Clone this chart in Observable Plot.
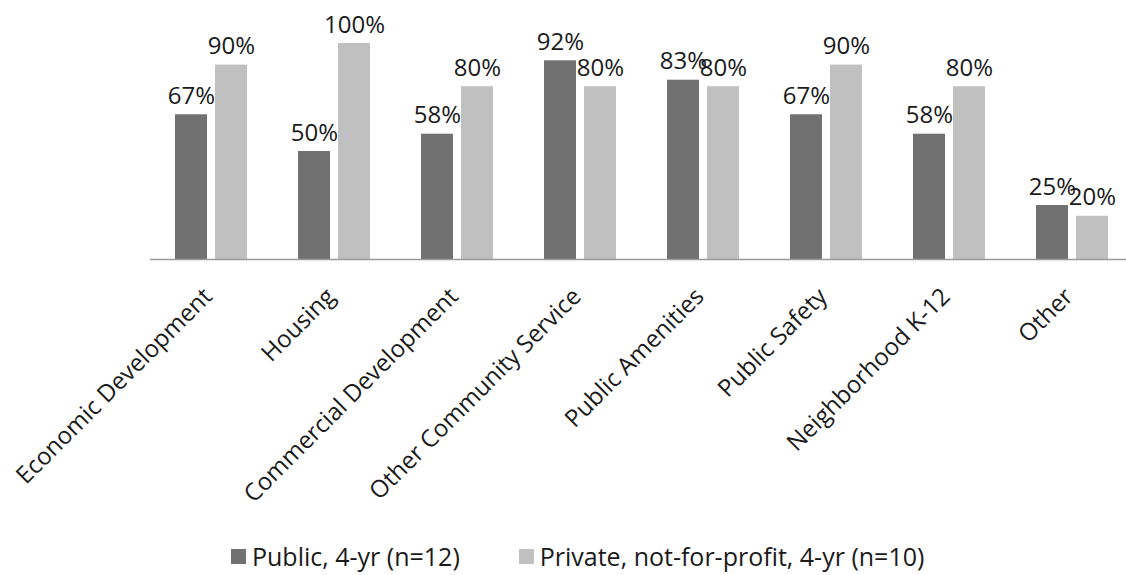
<!DOCTYPE html>
<html>
<head>
<meta charset="utf-8">
<script src="https://cdn.jsdelivr.net/npm/d3@7"></script>
<script src="https://cdn.jsdelivr.net/npm/@observablehq/plot@0.6"></script>
<style>
  html, body { margin: 0; padding: 0; background: #fff; overflow: hidden; }
  body { width: 1126px; height: 575px; position: relative; font-family: "Open Sans", sans-serif; }
  #chart svg { display: block; }
  #legend { position: absolute; left: 231px; top: 539px; display: flex; align-items: center; font-size: 25px; color: #1a1a1a; white-space: nowrap; }
  .item { display: flex; align-items: center; }
  .sw { width: 15px; height: 15px; display: inline-block; margin-right: 6px; }
</style>
</head>
<body>
<div id="chart"></div>
<div id="legend"></div>
<script>
const categories = ["Economic Development", "Housing", "Commercial Development", "Other Community Service", "Public Amenities", "Public Safety", "Neighborhood K-12", "Other"];
const seriesNames = ["Public, 4-yr (n=12)", "Private, not-for-profit, 4-yr (n=10)"];
const publicValues = [67, 50, 58, 92, 83, 67, 58, 25];
const privateValues = [90, 100, 80, 80, 80, 90, 80, 20];
const seriesColors = ["#717171", "#c0c0c0"];

const data = [];
categories.forEach((c, i) => {
  data.push({category: c, series: seriesNames[0], value: publicValues[i]});
  data.push({category: c, series: seriesNames[1], value: privateValues[i]});
});

const chart = Plot.plot({
  width: 1126,
  height: 530,
  marginTop: 43,
  marginBottom: 271,
  marginLeft: 150,
  marginRight: 0,
  style: {fontFamily: "Open Sans, sans-serif", fontSize: "24px", color: "#1a1a1a", background: "#fff"},
  fx: {domain: categories, range: [150, 1134], padding: 0},
  x: {domain: seriesNames, paddingInner: 0.195, paddingOuter: 0.6, axis: null},
  y: {domain: [0, 100], axis: null},
  color: {domain: seriesNames, range: seriesColors},
  marks: [
    Plot.barY(data, {fx: "category", x: "series", y: "value", fill: "series"}),
    Plot.ruleY([0], {stroke: "#9a9a9a", strokeWidth: 1.5}),
    Plot.text(data, {fx: "category", x: "series", y: "value", text: d => d.value + "%", lineAnchor: "bottom", dy: -11, fill: "#1a1a1a", fontSize: 24}),
    Plot.axisFx({anchor: "bottom", tickRotate: -45, tickSize: 0, tickPadding: 33, dx: -4, label: null, fontSize: 24, fill: "#1a1a1a"})
  ]
});
document.getElementById("chart").appendChild(chart);

const legend = document.getElementById("legend");
seriesNames.forEach((name, i) => {
  const item = document.createElement("span");
  item.className = "item";
  item.style.marginRight = i === 0 ? "59px" : "0";
  const sw = document.createElement("span");
  sw.className = "sw";
  sw.style.background = seriesColors[i];
  item.appendChild(sw);
  item.appendChild(document.createTextNode(name));
  legend.appendChild(item);
});
</script>
</body>
</html>
